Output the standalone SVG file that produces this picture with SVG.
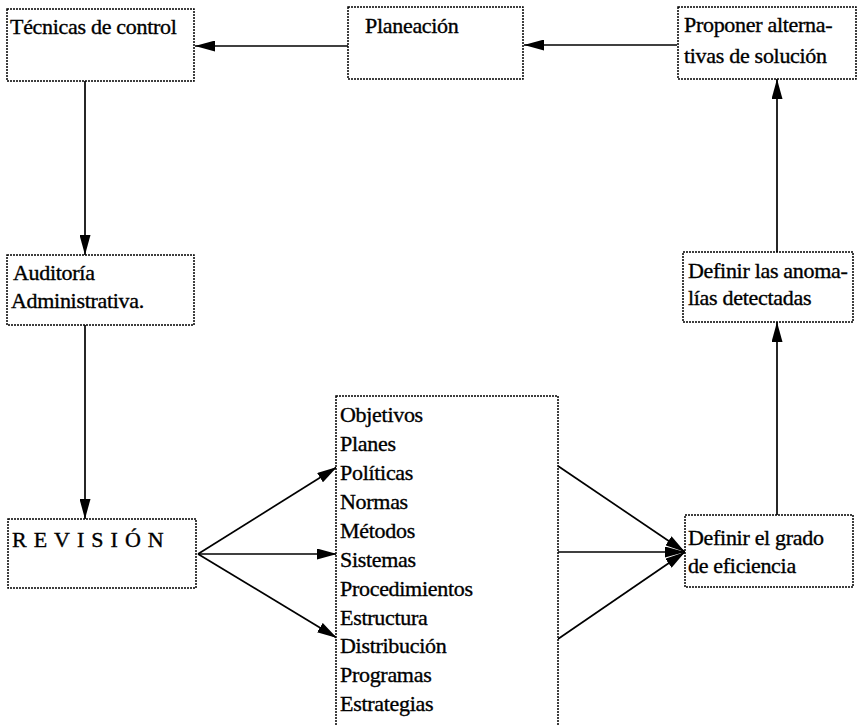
<svg xmlns="http://www.w3.org/2000/svg" width="859" height="726" viewBox="0 0 859 726">
  <style>
    .box { fill: #fff; stroke: #000; stroke-width: 1.5; stroke-dasharray: 2 1; }
    .lbl { font-family: "Liberation Serif", "Times New Roman", serif; font-size: 22px; letter-spacing: -0.3px; fill: #000; stroke: #000; stroke-width: 0.35; }
    .spaced { letter-spacing: 7px; }
    .edge { stroke: #000; stroke-width: 1.7; fill: none; marker-end: url(#head); }
  </style>
  <defs>
    <marker id="head" viewBox="0 0 20 11" refX="20" refY="5.5" markerWidth="20" markerHeight="11" markerUnits="userSpaceOnUse" orient="auto">
      <path d="M0,0 L20,5.5 L0,11 Z" fill="#000"/>
    </marker>
  </defs>
  <rect width="859" height="726" fill="#fff"/>

  <g id="connectors">
    <line class="edge" x1="677" y1="45" x2="524" y2="45"/>
    <line class="edge" x1="348" y1="46" x2="195" y2="46"/>
    <line class="edge" x1="85" y1="81" x2="85" y2="255"/>
    <line class="edge" x1="85" y1="325" x2="85" y2="519"/>
    <line class="edge" x1="198" y1="554" x2="337" y2="467"/>
    <line class="edge" x1="198" y1="554" x2="337" y2="554"/>
    <line class="edge" x1="198" y1="554" x2="337" y2="638"/>
    <line class="edge" x1="558" y1="466" x2="685" y2="552"/>
    <line class="edge" x1="558" y1="552" x2="685" y2="552"/>
    <line class="edge" x1="558" y1="639" x2="685" y2="552"/>
    <line class="edge" x1="777" y1="515" x2="777" y2="322"/>
    <line class="edge" x1="777" y1="252" x2="777" y2="79"/>
  </g>

  <g id="tecnicas">
    <rect class="box" x="7" y="9" width="187" height="72"/>
    <text class="lbl" x="10" y="34">Técnicas de control</text>
  </g>

  <g id="planeacion">
    <rect class="box" x="348" y="7" width="175" height="72"/>
    <text class="lbl" x="365" y="33">Planeación</text>
  </g>

  <g id="proponer">
    <rect class="box" x="678" y="7" width="178" height="72"/>
    <text class="lbl" x="684" y="32">Proponer alterna-</text>
    <text class="lbl" x="684" y="63">tivas de solución</text>
  </g>

  <g id="auditoria">
    <rect class="box" x="7" y="255" width="187" height="70"/>
    <text class="lbl" x="13" y="280">Auditoría</text>
    <text class="lbl" x="11" y="308">Administrativa.</text>
  </g>

  <g id="revision">
    <rect class="box" x="8" y="519" width="188" height="69"/>
    <text class="lbl spaced" x="12" y="547">REVISIÓN</text>
  </g>

  <g id="elementos">
    <rect class="box" x="336" y="396" width="222" height="340"/>
    <text class="lbl" x="340" y="422">Objetivos</text>
    <text class="lbl" x="340" y="451">Planes</text>
    <text class="lbl" x="340" y="480">Políticas</text>
    <text class="lbl" x="340" y="509">Normas</text>
    <text class="lbl" x="340" y="538">Métodos</text>
    <text class="lbl" x="340" y="567">Sistemas</text>
    <text class="lbl" x="340" y="596">Procedimientos</text>
    <text class="lbl" x="340" y="625">Estructura</text>
    <text class="lbl" x="340" y="653">Distribución</text>
    <text class="lbl" x="340" y="682">Programas</text>
    <text class="lbl" x="340" y="711">Estrategias</text>
  </g>

  <g id="grado">
    <rect class="box" x="685" y="515" width="168" height="72"/>
    <text class="lbl" x="688" y="545">Definir el grado</text>
    <text class="lbl" x="688" y="573">de eficiencia</text>
  </g>

  <g id="anomalias">
    <rect class="box" x="683" y="252" width="170" height="70"/>
    <text class="lbl" x="688" y="278">Definir las anoma-</text>
    <text class="lbl" x="688" y="305">lías detectadas</text>
  </g>
</svg>
